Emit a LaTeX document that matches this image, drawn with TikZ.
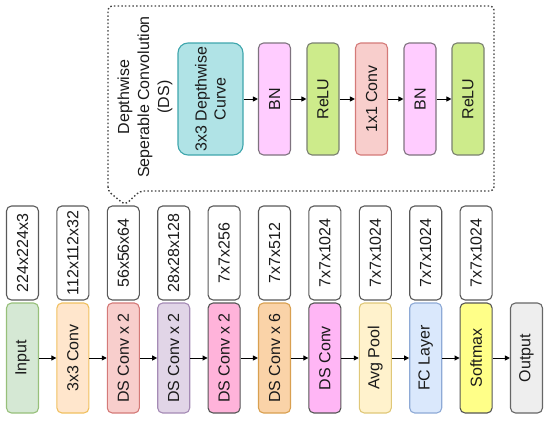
\documentclass[tikz,border=0pt]{standalone}
\usepackage{fontspec}
\setmainfont{Liberation Sans}
\usetikzlibrary{arrows.meta}

\definecolor{inF}{HTML}{D5E8D4}   \definecolor{inL}{HTML}{97C07A}
\definecolor{cvF}{HTML}{FFE6CC}   \definecolor{cvL}{HTML}{F0C060}
\definecolor{daF}{HTML}{F8CECC}   \definecolor{daL}{HTML}{D47A78}
\definecolor{dbF}{HTML}{E1D5E7}   \definecolor{dbL}{HTML}{A58BB5}
\definecolor{dcF}{HTML}{FFB3DA}   \definecolor{dcL}{HTML}{555555}
\definecolor{ddF}{HTML}{FAD3A8}   \definecolor{ddL}{HTML}{D9A050}
\definecolor{deF}{HTML}{FFB6F5}   \definecolor{deL}{HTML}{555555}
\definecolor{apF}{HTML}{FFF2CC}   \definecolor{apL}{HTML}{E0C878}
\definecolor{fcF}{HTML}{DAE8FC}   \definecolor{fcL}{HTML}{8EAAD6}
\definecolor{smF}{HTML}{FFFF88}   \definecolor{smL}{HTML}{555555}
\definecolor{ouF}{HTML}{EEEEEE}   \definecolor{ouL}{HTML}{666666}
\definecolor{dwF}{HTML}{B0E3E6}   \definecolor{dwL}{HTML}{3FA6AD}
\definecolor{bnF}{HTML}{FFCCFF}   \definecolor{bnL}{HTML}{7F737F}
\definecolor{reF}{HTML}{CDEB8B}   \definecolor{reL}{HTML}{7A8070}
\definecolor{pwF}{HTML}{F8CECC}   \definecolor{pwL}{HTML}{D47A78}
\definecolor{txt}{HTML}{1A1A1A}

\begin{document}
\begin{tikzpicture}[x=1pt,y=-1pt,
  txtfont/.style={font=\fontsize{16}{19}\selectfont,text=txt},
  layer/.style={txtfont,draw,rounded corners=5pt,line width=1.1pt,rotate=90,
    minimum width=110pt,minimum height=32pt,inner sep=0pt},
  dimbox/.style={layer,fill=white,draw=black!65,minimum width=94pt},
  dsbox/.style={layer,minimum width=112pt},
  arr/.style={-{Triangle[length=5pt,width=5pt]},line width=0.9pt,black}]
\useasboundingbox (0,0) rectangle (550,423);

% Depthwise separable convolution block
\draw[black!75,line width=1.4pt,dash pattern=on 1.5pt off 2.2pt,rounded corners=4pt]
  (108,191) -- (108,6) -- (494,6) -- (494,191) -- (140,191) -- (125,205) -- cycle;
\node[txtfont,rotate=90,align=center] (title) at (145,97)
  {Depthwise\\[1pt]Seperable Convolution\\[1pt](DS)};

\node[dsbox,fill=dwF,draw=dwL,minimum height=65pt,rounded corners=10pt,align=center]
  (s0) at (210.5,99) {3x3 Depthwise\\Curve};
\foreach \i/\x/\txt/\fc/\lc in {1/274.5/BN/bnF/bnL, 2/323/ReLU/reF/reL,
    3/371.5/1x1 Conv/pwF/pwL, 4/420/BN/bnF/bnL, 5/468/ReLU/reF/reL} {
  \node[dsbox,fill=\fc,draw=\lc] (s\i) at (\x,99) {\txt};
}
\foreach \i [evaluate=\i as \j using int(\i+1)] in {0,...,4} {
  \draw[arr] (s\i) -- (s\j);
}

% MobileNet layers with output sizes
\foreach \i/\txt/\dim/\fc/\lc in {0/Input/224x224x3/inF/inL,
    1/3x3 Conv/112x112x32/cvF/cvL, 2/DS Conv x 2/56x56x64/daF/daL,
    3/DS Conv x 2/28x28x128/dbF/dbL, 4/DS Conv x 2/7x7x256/dcF/dcL,
    5/DS Conv x 6/7x7x512/ddF/ddL, 6/DS Conv/7x7x1024/deF/deL,
    7/Avg Pool/7x7x1024/apF/apL, 8/FC Layer/7x7x1024/fcF/fcL,
    9/Softmax/7x7x1024/smF/smL} {
  \node[layer,fill=\fc,draw=\lc] (c\i) at (22.5+50.4*\i,358) {\txt};
  \node[dimbox] (d\i) at (22.5+50.4*\i,253) {\dim};
}
\node[layer,fill=ouF,draw=ouL] (c10) at (526.5,358) {Output};
\foreach \i [evaluate=\i as \j using int(\i+1)] in {0,...,9} {
  \draw[arr] (c\i) -- (c\j);
}
\end{tikzpicture}
\end{document}
